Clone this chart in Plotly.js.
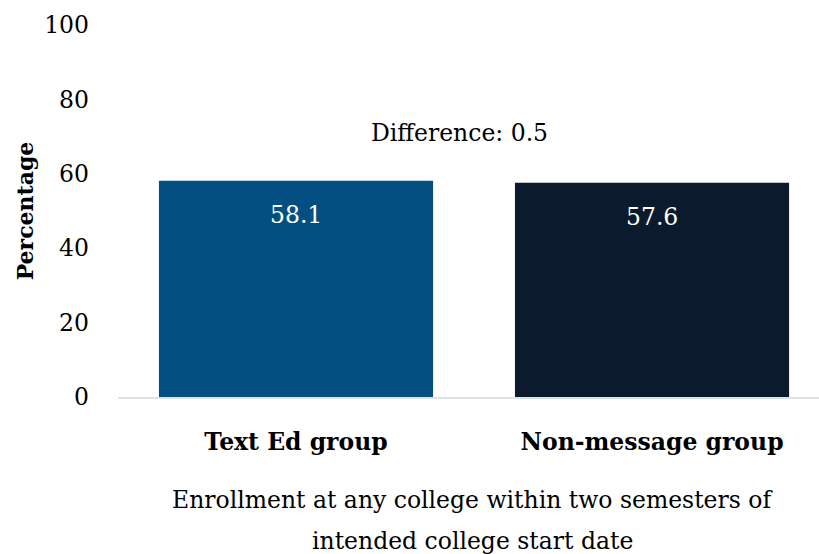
<!DOCTYPE html>
<html><head><meta charset="utf-8">
<script src="https://cdn.plot.ly/plotly-3.0.1.min.js"></script>
<style>html,body{margin:0;padding:0;background:#fff}</style>
</head><body><div id="chart" style="width:819px;height:554px"></div>
<script>
const categories = ["Text Ed group", "Non-message group"];
const values = [58.1, 57.6];
const barColors = ["#034f81", "#0b1b2d"];
const differenceLabel = "Difference: 0.5";
const yTicks = [0, 20, 40, 60, 80, 100];
const xTitleLines = ["Enrollment at any college within two semesters of", "intended college start date"];
const yTitle = "Percentage";

const FONT = "'DejaVu Serif', serif";
const SZ = 23.5;

const trace = {
  type: "bar",
  x: [0, 1],
  y: values,
  width: 0.77,
  marker: {color: barColors},
  hoverinfo: "skip"
};

const annotations = values.map((v, i) => ({
  x: i, y: v, xref: "x", yref: "y", text: v.toFixed(1), showarrow: false,
  yanchor: "middle", yshift: -34, font: {family: FONT, size: SZ, color: "#ffffff"}
}));
annotations.push({
  x: 0.46, y: 71, xref: "x", yref: "y", text: differenceLabel, showarrow: false,
  yanchor: "middle", font: {family: FONT, size: SZ, color: "#000000"}
});
const plotH = 554 - 25 - 157;
xTitleLines.forEach((t, i) => annotations.push({
  x: (472 - 118) / (819 - 118), xref: "paper",
  y: (554 - 157 - (500 + 41 * i)) / plotH, yref: "paper",
  text: t, showarrow: false,
  yanchor: "middle", font: {family: FONT, size: SZ, color: "#000000"}
}));

const layout = {
  width: 819, height: 554,
  margin: {l: 118, r: 0, t: 25, b: 157},
  paper_bgcolor: "#fff", plot_bgcolor: "#fff",
  showlegend: false,
  font: {family: FONT, color: "#000"},
  xaxis: {
    range: [-0.5, 1.469],
    tickvals: [0, 1], ticktext: categories.map(c => "<b>" + c + "</b>"),
    tickfont: {family: FONT, size: SZ, color: "#000"},
    ticklabelstandoff: 23,
    showline: true, linecolor: "#dde2e8", linewidth: 2,
    showgrid: false, zeroline: false, fixedrange: true
  },
  yaxis: {
    range: [0, 100],
    tickvals: yTicks,
    tickfont: {family: FONT, size: SZ, color: "#000"},
    ticklabelstandoff: 28,
    showgrid: false, zeroline: false, showline: false, fixedrange: true,
    title: {text: "<b>" + yTitle + "</b>", font: {family: FONT, size: 22, color: "#000"}, standoff: 4}
  },
  annotations: annotations
};

Plotly.newPlot("chart", [trace], layout, {displayModeBar: false, staticPlot: true});
</script></body></html>
